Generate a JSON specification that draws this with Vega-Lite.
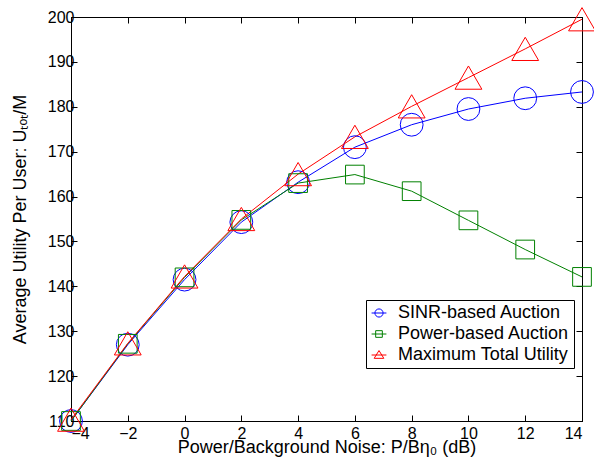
{
  "$schema": "https://vega.github.io/schema/vega-lite/v6.json",
  "width": 511,
  "height": 404,
  "autosize": "none",
  "padding": {"left": 71, "top": 17, "right": 12, "bottom": 40},
  "background": "white",
  "config": {
    "font": "Liberation Sans",
    "view": {"stroke": "black", "strokeWidth": 1},
    "axis": {
      "labelFont": "Liberation Sans",
      "titleFont": "Liberation Sans",
      "labelFontSize": 16,
      "titleFontSize": 18,
      "titleFontWeight": "normal",
      "labelColor": "black",
      "titleColor": "black",
      "domainColor": "black",
      "tickColor": "black",
      "grid": false,
      "tickSize": -6
    }
  },
  "data": {
    "values": [
      {"x": -4, "series": "SINR-based Auction", "y": 110},
      {"x": -2, "series": "SINR-based Auction", "y": 127},
      {"x": 0, "series": "SINR-based Auction", "y": 141.5},
      {"x": 2, "series": "SINR-based Auction", "y": 154.3},
      {"x": 4, "series": "SINR-based Auction", "y": 163.2},
      {"x": 6, "series": "SINR-based Auction", "y": 171},
      {"x": 8, "series": "SINR-based Auction", "y": 176},
      {"x": 10, "series": "SINR-based Auction", "y": 179.5},
      {"x": 12, "series": "SINR-based Auction", "y": 181.9},
      {"x": 14, "series": "SINR-based Auction", "y": 183.3},
      {"x": -4, "series": "Power-based Auction", "y": 110},
      {"x": -2, "series": "Power-based Auction", "y": 127.2},
      {"x": 0, "series": "Power-based Auction", "y": 142},
      {"x": 2, "series": "Power-based Auction", "y": 154.8},
      {"x": 4, "series": "Power-based Auction", "y": 163},
      {"x": 6, "series": "Power-based Auction", "y": 164.9},
      {"x": 8, "series": "Power-based Auction", "y": 161.2},
      {"x": 10, "series": "Power-based Auction", "y": 154.7},
      {"x": 12, "series": "Power-based Auction", "y": 148.2},
      {"x": 14, "series": "Power-based Auction", "y": 142.1},
      {"x": -4, "series": "Maximum Total Utility", "y": 110.3},
      {"x": -2, "series": "Maximum Total Utility", "y": 127.3},
      {"x": 0, "series": "Maximum Total Utility", "y": 142.2},
      {"x": 2, "series": "Maximum Total Utility", "y": 155},
      {"x": 4, "series": "Maximum Total Utility", "y": 165},
      {"x": 6, "series": "Maximum Total Utility", "y": 173.3},
      {"x": 8, "series": "Maximum Total Utility", "y": 180.1},
      {"x": 10, "series": "Maximum Total Utility", "y": 186.5},
      {"x": 12, "series": "Maximum Total Utility", "y": 192.9},
      {"x": 14, "series": "Maximum Total Utility", "y": 199.5}
    ]
  },
  "resolve": {"axis": {"x": "independent", "y": "independent"}, "legend": {"color": "independent", "shape": "independent", "size": "independent"}},
  "layer": [
    {
      "mark": {"type": "line", "strokeWidth": 1, "clip": false},
      "encoding": {
        "x": {"field": "x", "type": "quantitative", "scale": {"domain": [-4, 14], "nice": false, "zero": false},
              "axis": {"orient": "bottom", "values": [-4, -2, 0, 2, 4, 6, 8, 10, 12, 14], "title": "Power/Background Noise: P/Bη₀ (dB)", "labelPadding": 10, "titlePadding": -3}},
        "y": {"field": "y", "type": "quantitative", "scale": {"domain": [110, 200], "nice": false, "zero": false},
              "axis": {"orient": "left", "values": [110, 120, 130, 140, 150, 160, 170, 180, 190, 200], "title": "Average Utility Per User: Uₜₒₜ/M", "labelPadding": 3, "titlePadding": 18}},
        "color": {"field": "series", "type": "nominal",
                  "scale": {"domain": ["SINR-based Auction", "Power-based Auction", "Maximum Total Utility"], "range": ["#0000ff", "#008000", "#ff0000"]},
                  "legend": {
                    "title": null, "orient": "none", "legendX": 295, "legendY": 283,
                    "labelFont": "Liberation Sans", "labelFontSize": 18, "labelColor": "black", "labelLimit": 400,
                    "strokeColor": "black", "fillColor": "white", "padding": 4,
                    "symbolSize": 220, "symbolStrokeWidth": 1, "rowPadding": 3, "labelOffset": 10,
                    "encode": {"symbols": {"update": {"shape": {"signal": "datum.value === 'SINR-based Auction' ? 'M-1,0H1M0.55,0A0.55,0.55 0 1,1 -0.55,0A0.55,0.55 0 1,1 0.55,0Z' : (datum.value === 'Power-based Auction' ? 'M-1,0H1M-0.45,-0.45H0.45V0.45H-0.45Z' : 'M-1,0H1M0,-0.6L0.65,0.45H-0.65Z')"}, "fill": {"value": "transparent"}, "strokeWidth": {"value": 1}}}}
                  }}
      }
    },
    {
      "mark": {"type": "point", "filled": false, "strokeWidth": 1, "opacity": 1, "clip": false},
      "encoding": {
        "x": {"field": "x", "type": "quantitative", "axis": {"orient": "top", "labels": false, "title": null, "values": [-4, -2, 0, 2, 4, 6, 8, 10, 12, 14]}},
        "y": {"field": "y", "type": "quantitative", "axis": {"orient": "right", "labels": false, "title": null, "values": [110, 120, 130, 140, 150, 160, 170, 180, 190, 200]}},
        "color": {"field": "series", "type": "nominal", "legend": null},
        "shape": {"field": "series", "type": "nominal", "legend": null,
                  "scale": {"domain": ["SINR-based Auction", "Power-based Auction", "Maximum Total Utility"], "range": ["circle", "square", "triangle-up"]}},
        "size": {"field": "series", "type": "nominal", "legend": null,
                 "scale": {"type": "ordinal", "domain": ["SINR-based Auction", "Power-based Auction", "Maximum Total Utility"], "range": [520, 350, 720]}}
      }
    }
  ]
}
